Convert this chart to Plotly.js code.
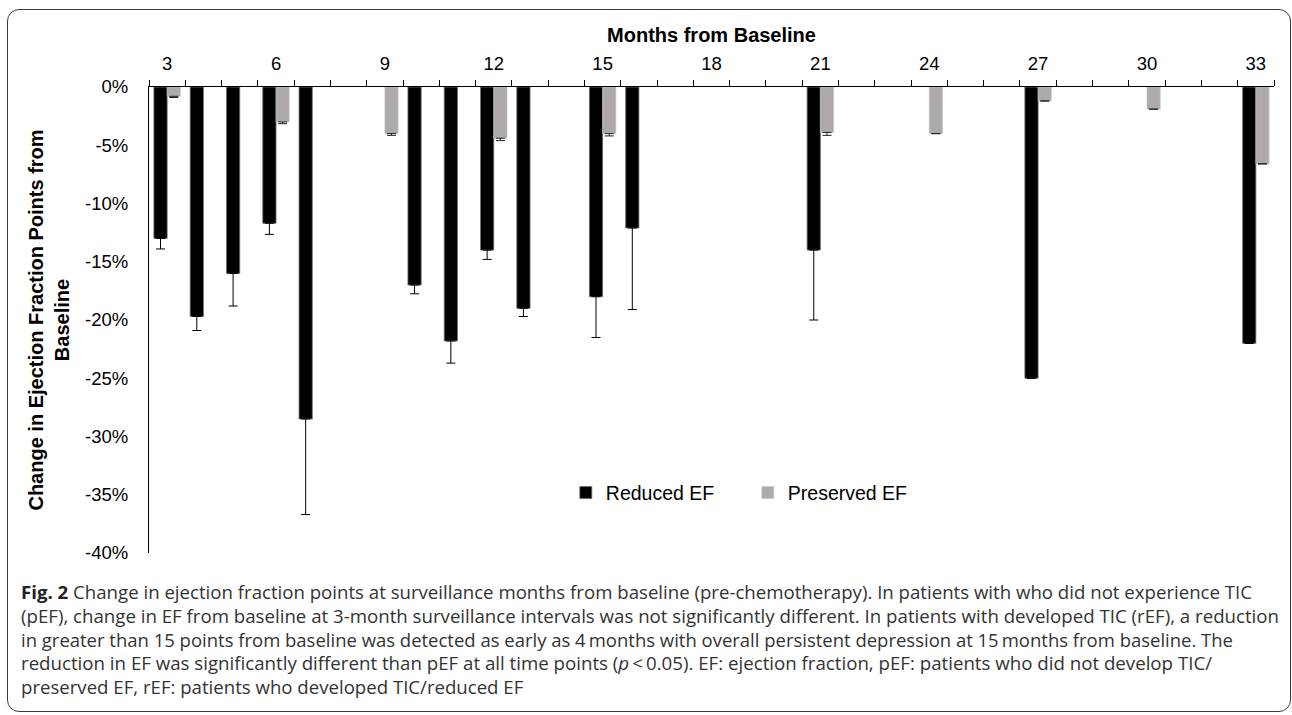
<!DOCTYPE html>
<html><head><meta charset="utf-8">
<script src="https://cdn.plot.ly/plotly-3.0.1.min.js"></script>
<style>
html,body{margin:0;padding:0;background:#fff;width:1292px;height:715px;overflow:hidden;}
#chart{position:absolute;left:0;top:0;width:1292px;height:715px;}
#frame{position:absolute;left:7px;top:9px;width:1284px;height:703px;border:1.5px solid #3a3a3a;border-radius:12px;box-sizing:border-box;pointer-events:none;}
#caption{position:absolute;left:21px;top:580px;font-family:'Open Sans','Noto Sans',sans-serif;font-size:18.5px;line-height:23.8px;color:#333;}
#caption div{white-space:nowrap;transform-origin:0 0;width:max-content;}
#caption b{color:#222;}
</style></head><body>
<div id="chart"></div>
<div id="frame"></div>
<div id="caption"></div>
<script>
// ---- data ----
const months = ["3","4","5","6","7","8","9","10","11","12","13","14","15","16","17","18","19","20","21","22","23","24","25","26","27","28","29","30","31","32","33"];
const monthLabels = ["3","","","6","","","9","","","12","","","15","","","18","","","21","","","24","","","27","","","30","","","33"];
const reducedEF = [-13.0,-19.7,-16.0,-11.7,-28.5,null,null,-17.0,-21.8,-14.0,-19.0,null,-18.0,-12.1,null,null,null,null,-14.0,null,null,null,null,null,-25.0,null,null,null,null,null,-22.0];
const reducedErr = [0.9,1.2,2.8,0.95,8.2,null,null,0.75,1.9,0.8,0.7,null,3.5,7.0,null,null,null,null,6.0,null,null,null,null,null,null,null,null,null,null,null,null];
const preservedEF = [-0.8,null,null,-3.0,null,null,-4.0,null,null,-4.4,null,null,-4.0,null,null,null,null,null,-3.9,null,null,-4.0,null,null,-1.2,null,null,-1.9,null,null,-6.6];
const preservedErr = [0.1,null,null,0.15,null,null,0.15,null,null,0.2,null,null,0.2,null,null,null,null,null,0.25,null,null,null,null,null,null,null,null,null,null,null,null];
const yTickVals = [0,-5,-10,-15,-20,-25,-30,-35,-40];
const yTickText = ["0%","-5%","-10%","-15%","-20%","-25%","-30%","-35%","-40%"];
const seriesNames = ["Reduced EF","Preserved EF"];
const captionLines = [
  "<b>Fig. 2</b> Change in ejection fraction points at surveillance months from baseline (pre-chemotherapy). In patients with who did not experience TIC",
  "(pEF), change in EF from baseline at 3-month surveillance intervals was not significantly different. In patients with developed TIC (rEF), a reduction",
  "in greater than 15 points from baseline was detected as early as 4&#8201;months with overall persistent depression at 15&#8201;months from baseline. The",
  "reduction in EF was significantly different than pEF at all time points (<i>p</i>&#8201;&lt;&#8201;0.05). EF: ejection fraction, pEF: patients who did not develop TIC/",
  "preserved EF, rEF: patients who developed TIC/reduced EF"
];
const captionWidths = [1231, 1258, 1212, 1191, null];

const plusOf = arr => arr.map(e => e == null ? null : 0);
const FONT = "'Liberation Sans', Arial, Helvetica, sans-serif";

const traces = [
  {
    type: "bar", name: seriesNames[0], x: months, y: reducedEF,
    marker: {color: "#000000", line: {color: "#6e6e6e", width: 0.8}},
    error_y: {type: "data", symmetric: false, array: plusOf(reducedErr), arrayminus: reducedErr,
              color: "#000000", thickness: 1, width: 4.5},
    hoverinfo: "x+y"
  },
  {
    type: "bar", name: seriesNames[1], x: months, y: preservedEF,
    marker: {color: "#aeaaaa", line: {color: "#c8c5c5", width: 0.6}},
    error_y: {type: "data", symmetric: false, array: plusOf(preservedErr), arrayminus: preservedErr,
              color: "#222222", thickness: 1, width: 4.5},
    hoverinfo: "x+y"
  }
];

const layout = {
  width: 1292, height: 715,
  margin: {l: 149, r: 18, t: 87, b: 162, pad: 0},
  paper_bgcolor: "rgba(0,0,0,0)", plot_bgcolor: "rgba(0,0,0,0)",
  font: {family: FONT, color: "#000", size: 18.5},
  barmode: "group", bargap: 0.27, bargroupgap: 0,
  showlegend: true,
  legend: {orientation: "h", x: 0.3705, xanchor: "left", y: 0.129, yanchor: "middle",
           font: {size: 19.5, color: "#000"}, bgcolor: "rgba(0,0,0,0)",
           entrywidth: 137, entrywidthmode: "pixels", traceorder: "normal"},
  xaxis: {
    type: "category", categoryorder: "array", categoryarray: months,
    side: "top", showline: true, linecolor: "#000", linewidth: 1,
    ticks: "outside", tickson: "boundaries", ticklen: 6, tickwidth: 1, tickcolor: "#000",
    tickmode: "array", tickvals: months, ticktext: monthLabels,
    tickfont: {size: 18.5, color: "#000"}, ticklabelstandoff: 9,
    showgrid: false, zeroline: false, automargin: false, fixedrange: true,
    title: {text: "Months from Baseline", font: {size: 20, weight: "bold", color: "#000"}, standoff: 4}
  },
  yaxis: {
    range: [-40, 0], showline: true, linecolor: "#000", linewidth: 1,
    ticks: "", tickmode: "array", tickvals: yTickVals, ticktext: yTickText,
    tickfont: {size: 18.5, color: "#000"}, ticklabelstandoff: 16,
    showgrid: false, zeroline: false, automargin: false, fixedrange: true,
    title: {text: "Change in Ejection Fraction Points from<br>Baseline",
            font: {size: 20, weight: "bold", color: "#000"}, standoff: 10}
  }
};

Plotly.newPlot("chart", traces, layout, {displayModeBar: false, staticPlot: true});

// caption
const cap = document.getElementById("caption");
const els = captionLines.map(t => { const d = document.createElement("div"); d.innerHTML = t; cap.appendChild(d); return d; });
let sum = 0, n = 0;
els.forEach((d, i) => {
  if (captionWidths[i]) {
    const w = d.getBoundingClientRect().width;
    const s = captionWidths[i] / w;
    d.style.transform = "scaleX(" + s + ")";
    sum += s; n++;
  }
});
els.forEach((d, i) => { if (!captionWidths[i]) d.style.transform = "scaleX(" + (sum / n) + ")"; });
</script></body></html>
